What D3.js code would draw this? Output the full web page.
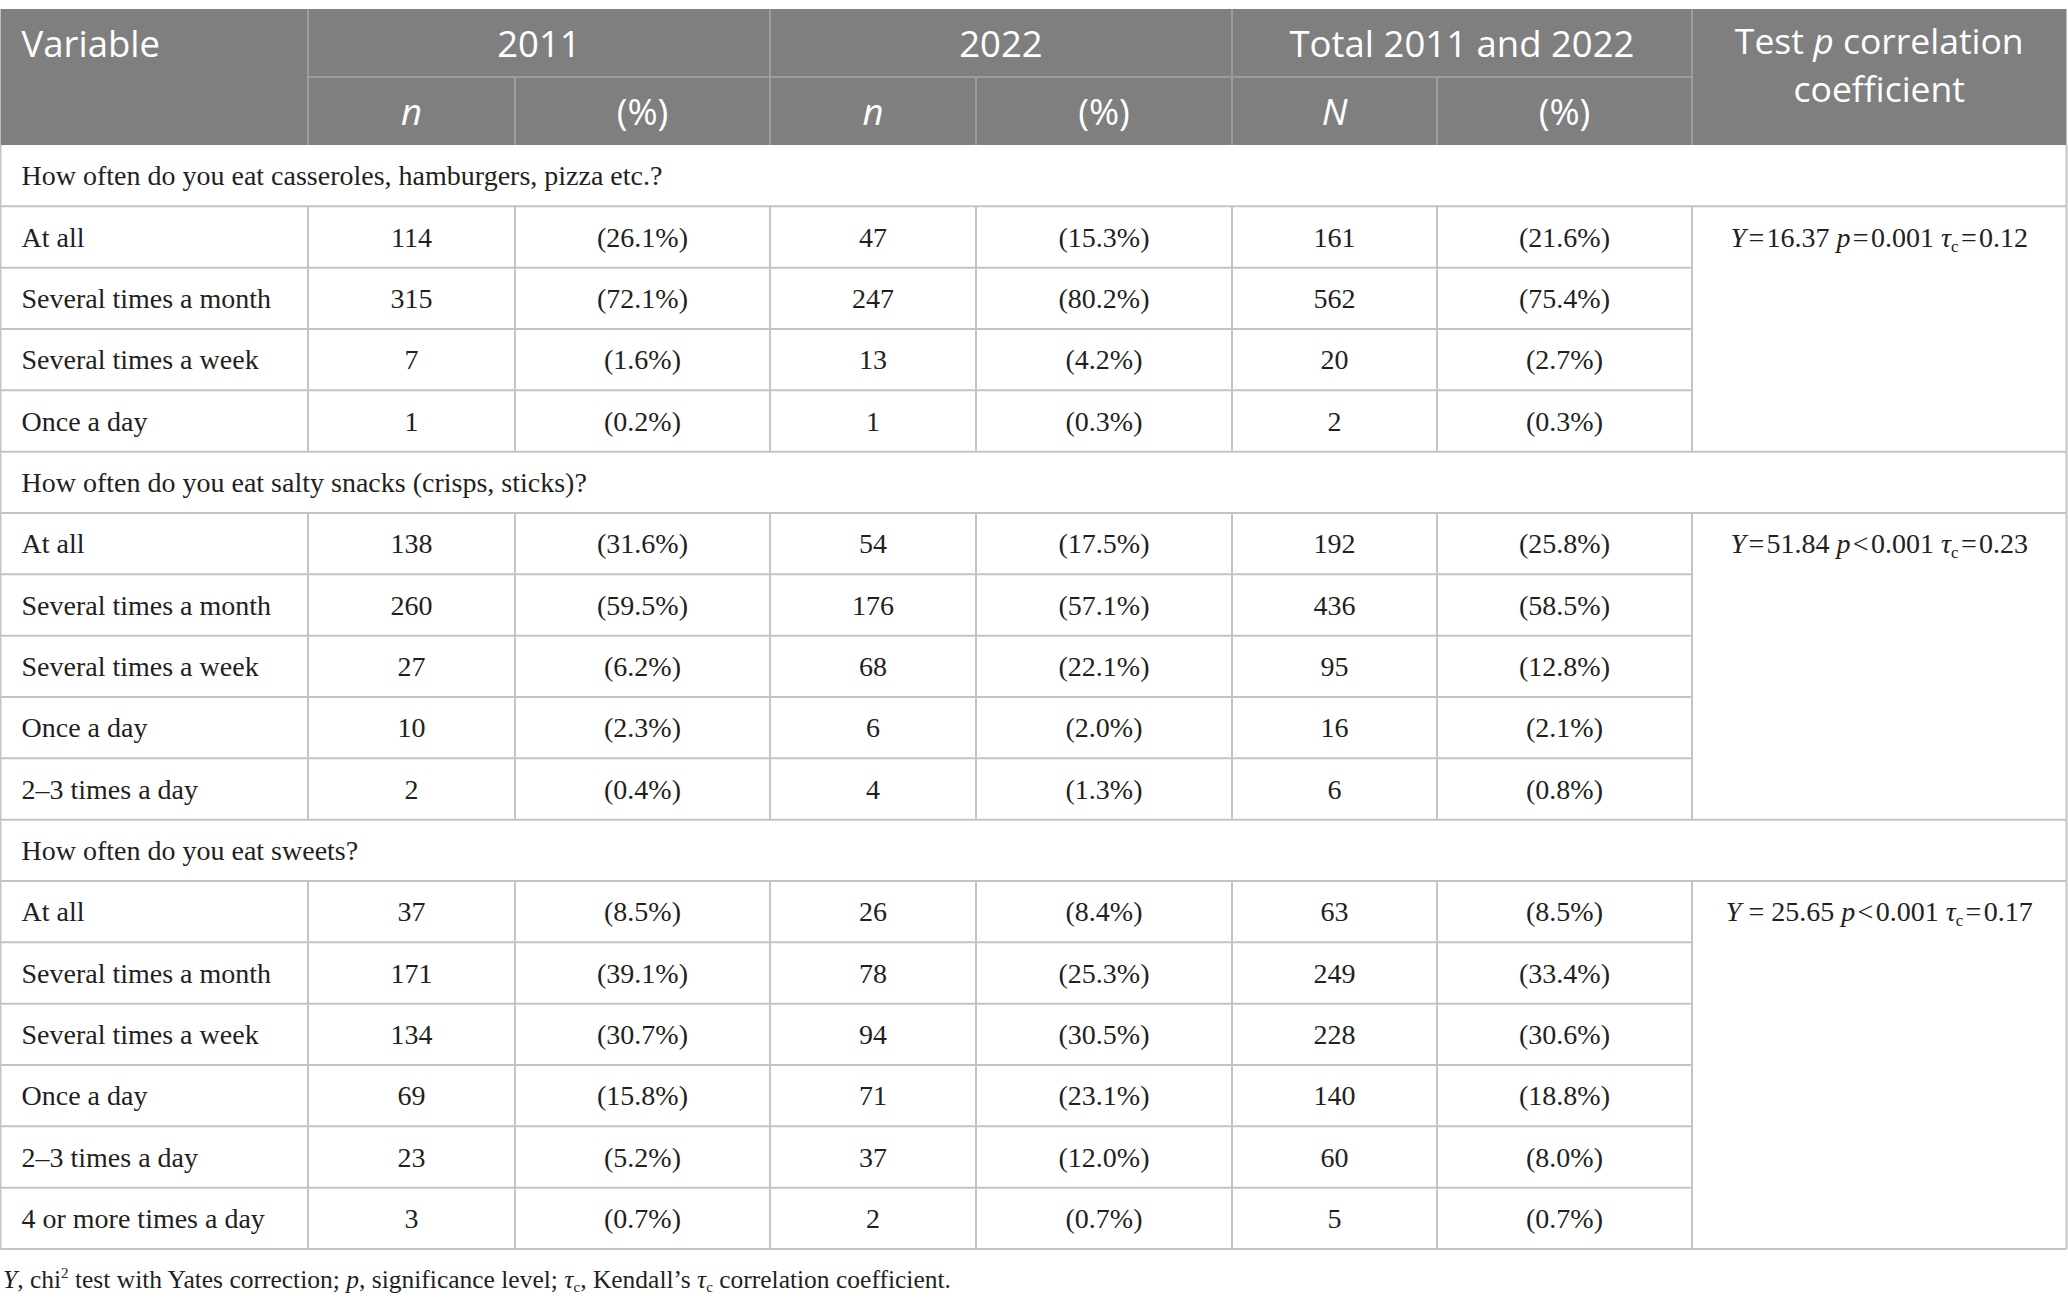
<!DOCTYPE html>
<html>
<head>
<meta charset="utf-8">
<script src="https://cdn.jsdelivr.net/npm/d3@7"></script>
<style>
  body { margin: 0; background: #fff; }
  svg { display: block; }
</style>
</head>
<body>
<svg id="tbl"></svg>
<script>
// Données du tableau
var questions = [
  "How often do you eat casseroles, hamburgers, pizza etc.?",
  "How often do you eat salty snacks (crisps, sticks)?",
  "How often do you eat sweets?"
];
var answers = [
  ["At all", "Several times a month", "Several times a week", "Once a day"],
  ["At all", "Several times a month", "Several times a week", "Once a day", "2–3 times a day"],
  ["At all", "Several times a month", "Several times a week", "Once a day", "2–3 times a day", "4 or more times a day"]
];
var n2011 = [[114, 315, 7, 1], [138, 260, 27, 10, 2], [37, 171, 134, 69, 23, 3]];
var pct2011 = [[26.1, 72.1, 1.6, 0.2], [31.6, 59.5, 6.2, 2.3, 0.4], [8.5, 39.1, 30.7, 15.8, 5.2, 0.7]];
var n2022 = [[47, 247, 13, 1], [54, 176, 68, 6, 4], [26, 78, 94, 71, 37, 2]];
var pct2022 = [[15.3, 80.2, 4.2, 0.3], [17.5, 57.1, 22.1, 2.0, 1.3], [8.4, 25.3, 30.5, 23.1, 12.0, 0.7]];
var nTotal = [[161, 562, 20, 2], [192, 436, 95, 16, 6], [63, 249, 228, 140, 60, 5]];
var pctTotal = [[21.6, 75.4, 2.7, 0.3], [25.8, 58.5, 12.8, 2.1, 0.8], [8.5, 33.4, 30.6, 18.8, 8.0, 0.7]];
var testY = [16.37, 51.84, 25.65];
var testSign = ["=", "<", "<"];
var testP = [0.001, 0.001, 0.001];
var testTau = [0.12, 0.23, 0.17];

// Mise en page
var W = 2068, H = 1306;
var colEdges = [0.5, 308, 515, 770, 976, 1232, 1437, 1692, 2066.5];
var headTop = 9, headMid = 77, headBot = 145, bodyBot = 1249;
var serif = "'Liberation Serif', 'Times New Roman', serif";
var sans = "'Open Sans', 'Noto Sans', sans-serif";
var lineBody = "#c4c4c4", lineHead = "#9c9c9c", headFill = "#807f7f";
var fsHead = 36.5, fsBody = 28;

var svg = d3.select("#tbl").attr("width", W).attr("height", H);

// liste à plat des lignes (sections + réponses)
var rows = [];
questions.forEach(function(q, s) {
  rows.push({ type: "section", s: s });
  answers[s].forEach(function(a, k) {
    rows.push({ type: "data", s: s, k: k, last: k === answers[s].length - 1 });
  });
});

var x = d3.scaleLinear().domain(d3.range(colEdges.length)).range(colEdges);
var y = d3.scaleBand().domain(d3.range(rows.length)).range([headBot, bodyBot]);
// centre d'un groupe de colonnes [a, b[
var mid = function(a, b) { return (x(a) + x(b)) / 2; };

var fmtPct = function(v) { return "(" + d3.format(".1f")(v) + "%)"; };
var fmtN = d3.format("d");

// En-tête
svg.append("rect")
  .attr("x", x(0)).attr("y", headTop)
  .attr("width", x(8) - x(0)).attr("height", headBot - headTop)
  .attr("fill", headFill);

var gHead = svg.append("g");
// lignes internes de l'en-tête
[[x(1), headMid, x(7), headMid]].concat(
  [1, 3, 5, 7].map(function(c) { return [x(c), headTop, x(c), headBot]; }),
  [2, 4, 6].map(function(c) { return [x(c), headMid, x(c), headBot]; })
).forEach(function(l) {
  gHead.append("line")
    .attr("x1", l[0]).attr("y1", l[1]).attr("x2", l[2]).attr("y2", l[3])
    .attr("stroke", lineHead).attr("stroke-width", 2);
});

var headText = function(xx, yy, anchor, parts, fs) {
  var t = gHead.append("text")
    .attr("x", xx).attr("y", yy)
    .attr("text-anchor", anchor)
    .attr("font-family", sans)
    .attr("font-size", fs || fsHead)
    .attr("fill", "#fff");
  parts.forEach(function(p) {
    t.append("tspan").attr("font-style", p.i ? "italic" : "normal").text(p.t);
  });
};
headText(x(0) + 21, 57, "start", [{ t: "Variable" }]);
headText(mid(1, 3), 57, "middle", [{ t: "2011" }]);
headText(mid(3, 5), 57, "middle", [{ t: "2022" }]);
headText(mid(5, 7), 57, "middle", [{ t: "Total 2011 and 2022" }]);
headText(mid(7, 8), 54, "middle", [{ t: "Test " }, { t: "p", i: true }, { t: " correlation" }], 35.5);
headText(mid(7, 8), 102, "middle", [{ t: "coefficient" }], 35.5);
var subHeads = [["n", true], ["(%)", false], ["n", true], ["(%)", false], ["N", true], ["(%)", false]];
subHeads.forEach(function(h, i) {
  headText(mid(i + 1, i + 2), 125, "middle", [{ t: h[0], i: h[1] }]);
});

// Corps du tableau
var gBody = svg.append("g");
var hLine = function(x1, x2, yy) {
  gBody.append("line")
    .attr("x1", x1).attr("x2", x2).attr("y1", yy).attr("y2", yy)
    .attr("stroke", lineBody).attr("stroke-width", 2);
};
var vLine = function(xx, y1, y2) {
  gBody.append("line")
    .attr("x1", xx).attr("x2", xx).attr("y1", y1).attr("y2", y2)
    .attr("stroke", lineBody).attr("stroke-width", 2);
};
var cellText = function(xx, yy, anchor, str) {
  return gBody.append("text")
    .attr("x", xx).attr("y", yy)
    .attr("text-anchor", anchor)
    .attr("font-family", serif)
    .attr("font-size", fsBody)
    .attr("fill", "#231f20")
    .text(str);
};

rows.forEach(function(r, i) {
  var top = y(i), bot = y(i) + y.bandwidth();
  var base = top + y.bandwidth() / 2 + 9.5;
  if (r.type === "section") {
    cellText(x(0) + 21, base, "start", questions[r.s]);
    hLine(x(0), x(8), bot);
    return;
  }
  var s = r.s, k = r.k;
  hLine(x(0), r.last ? x(8) : x(7), bot);
  d3.range(1, 8).forEach(function(c) { vLine(x(c), top, bot); });
  cellText(x(0) + 21, base, "start", answers[s][k]);
  var vals = [fmtN(n2011[s][k]), fmtPct(pct2011[s][k]), fmtN(n2022[s][k]), fmtPct(pct2022[s][k]),
              fmtN(nTotal[s][k]), fmtPct(pctTotal[s][k])];
  vals.forEach(function(v, c) { cellText(mid(c + 1, c + 2), base, "middle", v); });

  // cellule fusionnée du test
  if (k === 0) {
    var t = gBody.append("text")
      .attr("x", mid(7, 8)).attr("y", base)
      .attr("text-anchor", "middle")
      .attr("font-family", serif)
      .attr("font-size", fsBody)
      .attr("fill", "#231f20");
    var sp = s === 2 ? " " : "\u200a";
    t.append("tspan").attr("font-style", "italic").text("Y");
    t.append("tspan").text(sp + "=" + sp + d3.format(".2f")(testY[s]) + " ");
    t.append("tspan").attr("font-style", "italic").text("p");
    t.append("tspan").text("\u200a" + testSign[s] + "\u200a" + d3.format(".3f")(testP[s]) + " ");
    t.append("tspan").attr("font-style", "italic").text("τ");
    t.append("tspan").attr("font-size", 17).attr("dy", 5).text("c");
    t.append("tspan").attr("dy", -5).text("\u200a=\u200a" + d3.format(".2f")(testTau[s]));
  }
});
// bords gauche / droit
vLine(x(0), headBot, bodyBot);
vLine(x(8), headBot, bodyBot);

// Note de bas de tableau
var note = svg.append("text")
  .attr("x", 3).attr("y", 1288)
  .attr("font-family", serif)
  .attr("font-size", 25.5)
  .attr("fill", "#231f20");
var shift = 0;
[
  { t: "Y", i: true }, { t: ", chi" }, { t: "2", off: -10 }, { t: " test with Yates correction; " },
  { t: "p", i: true }, { t: ", significance level; " }, { t: "τ", i: true }, { t: "c", off: 4 },
  { t: ", Kendall’s " }, { t: "τ", i: true }, { t: "c", off: 4 }, { t: " correlation coefficient." }
].forEach(function(p) {
  var target = p.off || 0;
  var ts = note.append("tspan").attr("dy", target - shift).text(p.t);
  shift = target;
  if (p.i) ts.attr("font-style", "italic");
  if (p.off) ts.attr("font-size", 15);
});
</script>
</body>
</html>
